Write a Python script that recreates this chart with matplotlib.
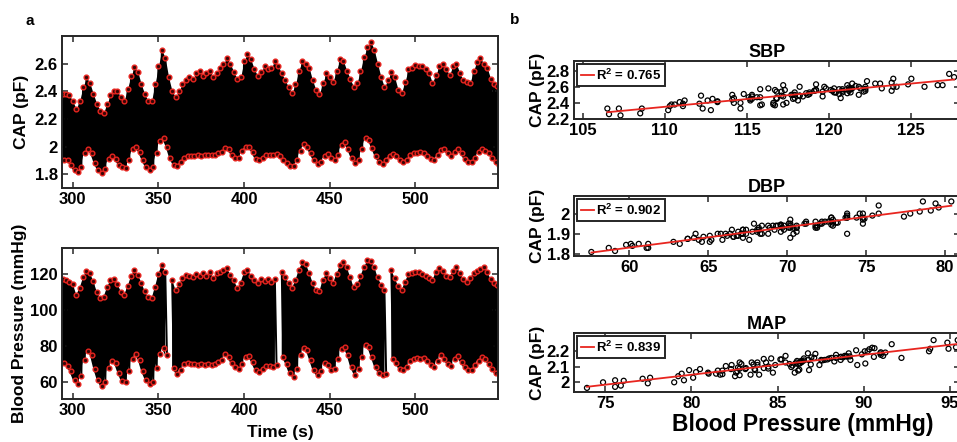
import numpy as np
import matplotlib
matplotlib.use("Agg")
import matplotlib.pyplot as plt
from matplotlib.ticker import FuncFormatter

plt.rcParams["font.family"] = ["Liberation Sans", "DejaVu Sans"]
plt.rcParams["font.weight"] = "bold"
plt.rcParams["axes.labelweight"] = "bold"
plt.rcParams["axes.titleweight"] = "bold"
plt.rcParams["mathtext.fontset"] = "custom"
plt.rcParams["mathtext.bf"] = "Liberation Sans:bold"
plt.rcParams["mathtext.rm"] = "Liberation Sans:bold"
plt.rcParams["mathtext.default"] = "bf"

# beat times (s), one beat every 2 s
t_start, t_step = 294, 2

# CAP envelope (pF): peaks and troughs
cap_sys = [2.38, 2.38, 2.37, 2.33, 2.27, 2.33, 2.43, 2.50, 2.46, 2.38,
           2.31, 2.26, 2.245, 2.31, 2.37, 2.40, 2.40, 2.36, 2.33, 2.42,
           2.51, 2.575, 2.54, 2.45, 2.38, 2.33, 2.33, 2.45, 2.58, 2.70,
           2.64, 2.50, 2.40, 2.36, 2.40, 2.45, 2.48, 2.50, 2.49, 2.53,
           2.55, 2.51, 2.53, 2.55, 2.50, 2.53, 2.57, 2.60, 2.64, 2.60,
           2.54, 2.49, 2.50, 2.62, 2.67, 2.63, 2.56, 2.51, 2.54, 2.58,
           2.56, 2.57, 2.62, 2.58, 2.53, 2.48, 2.43, 2.39, 2.45, 2.55,
           2.62, 2.60, 2.57, 2.48, 2.41, 2.38, 2.46, 2.53, 2.50, 2.47,
           2.55, 2.63, 2.62, 2.55, 2.49, 2.43, 2.46, 2.55, 2.65, 2.72,
           2.76, 2.70, 2.60, 2.50, 2.43, 2.48, 2.54, 2.50, 2.41, 2.39,
           2.47, 2.56, 2.57, 2.59, 2.58, 2.58, 2.56, 2.53, 2.46, 2.52,
           2.58, 2.60, 2.56, 2.52, 2.58, 2.60, 2.53, 2.48, 2.47, 2.46,
           2.55, 2.61, 2.64, 2.60, 2.57, 2.49, 2.45, 2.44]
cap_dia = [1.90, 1.90, 1.87, 1.83, 1.815, 1.85, 1.95, 1.985, 1.95, 1.88,
           1.83, 1.81, 1.84, 1.91, 1.93, 1.91, 1.87, 1.85, 1.845, 1.90,
           1.98, 2.00, 1.96, 1.90, 1.85, 1.83, 1.85, 1.95, 2.04, 2.06,
           2.00, 1.92, 1.87, 1.86, 1.89, 1.92, 1.93, 1.93, 1.93, 1.94,
           1.93, 1.94, 1.94, 1.94, 1.94, 1.95, 1.96, 1.99, 1.98, 1.94,
           1.92, 1.92, 1.97, 2.00, 2.00, 1.96, 1.91, 1.90, 1.92, 1.94,
           1.94, 1.94, 1.945, 1.93, 1.90, 1.88, 1.86, 1.86, 1.90, 1.97,
           2.015, 2.00, 1.95, 1.90, 1.875, 1.89, 1.93, 1.945, 1.92, 1.90,
           1.94, 2.01, 2.03, 1.98, 1.92, 1.88, 1.90, 1.98, 2.06, 2.05,
           1.99, 1.93, 1.89, 1.875, 1.90, 1.935, 1.945, 1.93, 1.90, 1.885,
           1.90, 1.94, 1.955, 1.955, 1.96, 1.955, 1.93, 1.91, 1.90, 1.94,
           1.975, 1.98, 1.95, 1.93, 1.96, 1.98, 1.95, 1.91, 1.89, 1.885,
           1.92, 1.96, 1.98, 1.97, 1.95, 1.92, 1.885, 1.87]

# blood pressure envelope (mmHg), nan = signal dropout
nan = float("nan")
bp_sys = [117.2, 116.6, 115.8, 114.6, 108.5, 112.3, 118.1, 121.8, 120.7, 115.9,
          110.2, 106.6, 107.3, 112.8, 116.7, 117.4, 114.6, 110.3, 108.6, 113.2,
          118.8, 122.2, 119.6, 115.3, 110.4, 107.2, 106.5, 112.9, 120.3, 125.0,
          121.4, nan, 116.6, 111.1, 114.2, 117.8, 119.6, 118.7, 118.2, 120.3,
          119.1, 120.6, 118.8, 121.2, 117.9, 120.4, 121.3, 122.2, 123.1, 119.7,
          116.8, 112.2, 115.3, 121.1, 122.3, 119.2, 116.7, 114.8, 117.1, 116.3,
          117.3, 115.8, 117.2, nan, 121.3, 118.4, 115.2, 112.1, 116.8, 122.2,
          126.6, 125.8, 120.8, 115.3, 110.9, 110.6, 116.8, 120.4, 117.8, 115.1,
          120.2, 124.8, 126.9, 123.8, 118.2, 112.6, 114.2, 119.1, 123.8, 127.6,
          127.3, 123.9, 118.2, 114.1, 111.2, nan, 122.1, 117.7, 113.2, 111.1,
          115.8, 120.1, 120.6, 121.2, 121.4, 119.8, 119.2, 117.9, 116.8, 121.1,
          123.2, 121.8, 119.2, 118.6, 121.9, 124.1, 120.8, 117.2, 115.6, 117.9,
          120.8, 121.6, 122.8, 123.9, 121.2, 117.1, 115.2, 114.1]
bp_dia = [70.4, 68.8, 65.9, 61.2, 59.1, 63.2, 72.1, 77.4, 74.8, 67.2,
          61.1, 57.6, 60.2, 67.8, 71.9, 70.6, 65.2, 60.6, 59.8, 66.1,
          72.8, 75.8, 72.2, 65.8, 61.2, 58.7, 60.1, 67.9, 75.8, 78.6,
          74.8, nan, 67.6, 64.6, 66.8, 69.8, 70.6, 69.7, 70.2, 69.4,
          70.1, 69.3, 69.8, 69.6, 70.2, 71.1, 72.4, 75.4, 73.8, 70.6,
          68.1, 67.4, 70.2, 73.8, 74.6, 71.2, 66.9, 65.6, 67.2, 68.8,
          69.1, 68.4, 69.6, nan, 73.8, 70.2, 65.1, 62.8, 67.1, 74.8,
          79.1, 77.8, 72.2, 66.4, 63.7, 66.2, 70.4, 69.6, 66.5, 67.2,
          72.9, 78.4, 79.6, 74.8, 68.2, 64.1, 67.1, 73.8, 80.4, 79.4,
          73.8, 68.2, 65.1, 63.7, 64.2, nan, 72.8, 70.6, 67.4, 66.6,
          68.4, 71.8, 72.9, 73.2, 72.8, 73.1, 71.8, 69.6, 68.3, 71.9,
          74.9, 72.8, 70.2, 68.9, 72.6, 74.4, 71.2, 68.1, 66.9, 66.6,
          69.2, 71.8, 73.7, 72.9, 70.1, 67.2, 64.7, 64.4]

r2_labels = ["R$^2$ = 0.765", "R$^2$ = 0.902", "R$^2$ = 0.839"]
panel_titles = ["SBP", "DBP", "MAP"]

W, H = 957, 442


def box(x0, y0, x1, y1):
    return [x0 / W, 1 - y1 / H, (x1 - x0) / W, (y1 - y0) / H]


def style(ax, fs):
    for s in ax.spines.values():
        s.set_linewidth(1.4)
        s.set_color("#262626")
    ax.tick_params(direction="in", top=True, right=True, length=4,
                   width=1.1, color="#262626", labelsize=fs, pad=3)
    ax.yaxis.set_major_formatter(FuncFormatter(lambda v, p: "%g" % round(v, 3)))


t = t_start + t_step * np.arange(len(cap_sys))
cap_sys = np.array(cap_sys)
cap_dia = np.array(cap_dia)
bp_sys = np.array(bp_sys)
bp_dia = np.array(bp_dia)

fig = plt.figure(figsize=(W / 100, H / 100), dpi=100)
red = "#e8251f"

# ---- a: time traces
ax1 = fig.add_axes(box(62, 36, 498, 188))
ax2 = fig.add_axes(box(62, 248, 498, 399))
for ax, up, lo in [(ax1, cap_sys, cap_dia), (ax2, bp_sys, bp_dia)]:
    tz = np.column_stack([t, t + t_step / 2]).ravel()
    yz = np.column_stack([up, lo]).ravel()
    ax.fill_between(t, lo, up, color="k", lw=0)
    ax.plot(tz, yz, color="k", lw=1.4)
    ax.plot(t, up, "o", ms=3.4, mec=red, mfc="#3a0505", mew=1.0)
    ax.plot(t + t_step / 2, lo, "o", ms=3.4, mec=red, mfc="#3a0505", mew=1.0)
    ax.set_xlim(293.7, 548.3)
    ax.set_xticks([300, 350, 400, 450, 500])
    style(ax, 12)

ax1.set_ylim(1.7, 2.8)
ax1.set_yticks([1.8, 2.0, 2.2, 2.4, 2.6])
ax1.set_ylabel("CAP (pF)", fontsize=12.5, labelpad=4)
ax2.set_ylim(50.5, 134.5)
ax2.set_yticks([60, 80, 100, 120])
ax2.set_ylabel("Blood Pressure (mmHg)", fontsize=12.5, labelpad=2)
ax2.set_xlabel("Time (s)", fontsize=12.5, labelpad=5)

# ---- b: CAP vs pressure scatter
ok = ~np.isnan(bp_sys)
map_bp = (bp_sys + 2 * bp_dia) / 3
map_cap = (cap_sys + 2 * cap_dia) / 3
pairs = [(bp_sys[ok], cap_sys[ok]), (bp_dia[ok], cap_dia[ok]), (map_bp[ok], map_cap[ok])]

boxes = [box(574, 61, 960, 119), box(574, 196, 960, 256), box(574, 333, 960, 392)]
xlims = [(104.47, 127.96), (56.5, 80.95), (73.18, 95.6)]
ylims = [(2.2, 2.92), (1.79, 2.087), (1.933, 2.32)]
xticks = [[105, 110, 115, 120, 125], [60, 65, 70, 75, 80], [75, 80, 85, 90, 95]]
yticks = [[2.2, 2.4, 2.6, 2.8], [1.8, 1.9, 2.0], [2.0, 2.1, 2.2]]

for i in range(3):
    ax = fig.add_axes(boxes[i])
    x, y = pairs[i]
    ax.scatter(x, y, s=13, facecolors="none", edgecolors="k", linewidths=0.9, zorder=2)
    k, b = np.polyfit(x, y, 1)
    xs = np.array([x.min(), x.max()])
    ax.plot(xs, k * xs + b, color=red, lw=1.3, zorder=3, label=r2_labels[i])
    ax.set_xlim(*xlims[i])
    ax.set_ylim(*ylims[i])
    ax.set_xticks(xticks[i])
    ax.set_yticks(yticks[i])
    style(ax, 12)
    ax.set_title(panel_titles[i], fontsize=13, pad=3)
    ax.set_ylabel("CAP (pF)", fontsize=12.5, labelpad=1)
    leg = ax.legend(loc="upper left", fancybox=False, framealpha=1,
                    edgecolor="#262626", handlelength=1.0, handletextpad=0.2,
                    borderpad=0.25, borderaxespad=0.25, prop={"size": 9.5, "weight": "bold"})
    leg.get_frame().set_linewidth(1.4)
    if i == 2:
        ax.set_xlabel("Blood Pressure (mmHg)", fontsize=16.5)
        ax.xaxis.set_label_coords(0.593, -0.36)

fig.text(30 / W, 1 - 21 / H, "a", fontsize=11, fontweight="bold", ha="center", va="center")
fig.text(515 / W, 1 - 20 / H, "b", fontsize=11, fontweight="bold", ha="center", va="center")

fig.savefig("out.png", dpi=100)
